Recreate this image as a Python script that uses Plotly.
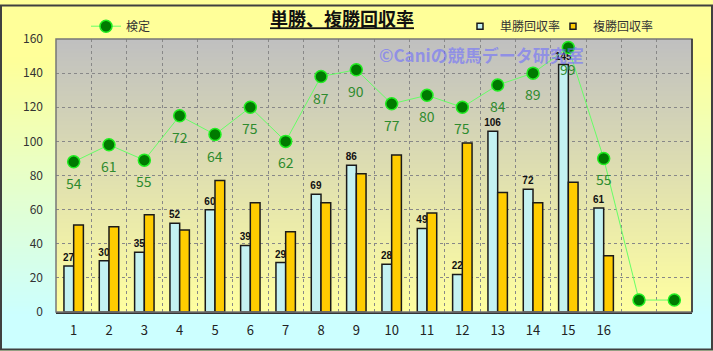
import base64, struct, zlib
import plotly.graph_objects as go

# ---------------- data ----------------
races = [str(i) for i in range(1, 17)]
tansho = [27, 30, 35, 52, 60, 39, 29, 69, 86, 28, 49, 22, 106, 72, 145, 61]
fukusho = [51, 50, 57, 48, 77, 64, 47, 64, 81, 92, 58, 99, 70, 64, 76, 33]
kentei_y = [88, 98, 89, 115, 104, 120, 100, 138, 142, 122, 127, 120, 133, 140, 155, 90, 7, 7]
kentei_labels = ["54", "61", "55", "72", "64", "75", "62", "87", "90", "77", "80", "75",
                 "84", "89", "99", "55", "", ""]
y_ticks = [0, 20, 40, 60, 80, 100, 120, 140, 160]

W, H = 713, 351
ML, MR, MT, MB = 56, 21, 35, 39
PW, PH = W - ML - MR, H - MT - MB

C_TAN = "#C4F2F2"
C_FUKU = "#FFCC00"


def png_uri(colors):
    """1-pixel-wide vertical gradient PNG as data URI."""
    raw = b"".join(b"\x00" + bytes(c) for c in colors)

    def chunk(tag, data):
        return (struct.pack(">I", len(data)) + tag + data +
                struct.pack(">I", zlib.crc32(tag + data) & 0xFFFFFFFF))

    png = (b"\x89PNG\r\n\x1a\n" +
           chunk(b"IHDR", struct.pack(">IIBBBBB", 1, len(colors), 8, 2, 0, 0, 0)) +
           chunk(b"IDAT", zlib.compress(raw)) + chunk(b"IEND", b""))
    return "data:image/png;base64," + base64.b64encode(png).decode()


def grad(c1, c2, n, start=0.0, end=1.0):
    out = []
    for i in range(n):
        f = i / (n - 1)
        t = min(1.0, max(0.0, (f - start) / (end - start)))
        out.append(tuple(int(round(a + (b - a) * t)) for a, b in zip(c1, c2)))
    return out


paper_img = png_uri(grad((255, 255, 153), (204, 255, 255), 128, 0.15, 0.9))
plot_img = png_uri(grad((192, 192, 192), (255, 255, 160), 128, 0.0, 1.0))

x_bar = list(range(1, 17))
x_line = list(range(1, 19))

fig = go.Figure()
fig.add_trace(go.Bar(
    x=x_bar, y=tansho, name="単勝回収率", showlegend=False,
    marker=dict(color=C_TAN, line=dict(color="#1a1a1a", width=1.5)),
    text=[str(v) for v in tansho], textposition="outside", constraintext="none",
    textfont=dict(family="Liberation Sans", size=10, color="#111"),
    texttemplate="<b>%{text}</b>", cliponaxis=False,
))
fig.add_trace(go.Bar(
    x=x_bar, y=fukusho, name="複勝回収率", showlegend=False,
    marker=dict(color=C_FUKU, line=dict(color="#1a1a1a", width=1.5)),
))
fig.add_trace(go.Scatter(
    x=x_line, y=kentei_y, name="検定", legend="legend", showlegend=True,
    mode="lines+markers",
    line=dict(color="#66FF66", width=1),
    marker=dict(size=12, color="#007A00", line=dict(color="#22EE22", width=1.5)),
    cliponaxis=False,
))
# legend entries for the bar series (small square symbols like the original)
for name, col, lg in [("単勝回収率", C_TAN, "legend2"), ("複勝回収率", C_FUKU, "legend3")]:
    fig.add_trace(go.Scatter(
        x=[None], y=[None], mode="markers", name=name, legend=lg, showlegend=True,
        marker=dict(symbol="square", size=6, color=col, line=dict(color="#1a1a1a", width=1.5)),
    ))

annotations = [
    dict(text="<b>©Caniの競馬データ研究室</b>", xref="paper", yref="paper",
         x=(377 - ML) / PW, xanchor="left", y=1 - (51 - MT) / PH, yanchor="middle",
         showarrow=False, font=dict(size=17, color="rgba(110,110,255,0.6)")),
]
for xv, yv, lab in zip(x_line, kentei_y, kentei_labels):
    if lab:
        annotations.append(dict(x=xv, y=yv, text=lab, showarrow=False, yshift=-21,
                                font=dict(size=14, color="#2E8B2E")))

leg_common = dict(xanchor="left", y=1 + (MT - 22) / PH, yanchor="middle",
                  orientation="h", bgcolor="rgba(0,0,0,0)",
                  font=dict(size=12, color="#333"), itemwidth=30)

fig.update_layout(
    width=W, height=H,
    margin=dict(l=ML, r=MR, t=MT, b=MB),
    showlegend=True,
    paper_bgcolor="#FFFF99", plot_bgcolor="rgba(0,0,0,0)",
    font=dict(family="Noto Sans CJK JP", size=12, color="#333"),
    barmode="group", bargap=0.45, bargroupgap=0,
    title=dict(text="<u><b>単勝、複勝回収率</b></u>", x=342 / W, xanchor="center",
               y=1 - 20 / H, yanchor="middle", xref="container", yref="container",
               font=dict(size=18, color="#111")),
    legend=dict(x=(86 - ML) / PW, **leg_common),
    legend2=dict(x=(460 - ML) / PW, **leg_common),
    legend3=dict(x=(553 - ML) / PW, **leg_common),
    xaxis=dict(range=[0.5, 18.5], tickvals=x_bar, ticktext=races, showgrid=False,
               zeroline=False, ticks="", tickfont=dict(size=13, color="#222"),
               ticklabelstandoff=6,
               showline=True, linecolor="#333", linewidth=1.5,
               minor=dict(tickvals=[i + 0.5 for i in range(1, 18)], showgrid=True,
                          gridcolor="#888", griddash="dot", gridwidth=1)),
    yaxis=dict(range=[0, 160], tickvals=y_ticks, showgrid=True, gridcolor="#888",
               griddash="dot", gridwidth=1, zeroline=False, ticks="",
               ticklabelstandoff=12,
               tickfont=dict(size=12, color="#333")),
    images=[
        dict(source=paper_img, xref="paper", yref="paper", x=-ML / PW, y=1 + MT / PH,
             sizex=W / PW, sizey=H / PH, sizing="stretch", layer="below",
             xanchor="left", yanchor="top"),
        dict(source=plot_img, xref="paper", yref="paper", x=0, y=1, sizex=1, sizey=1,
             sizing="stretch", layer="below", xanchor="left", yanchor="top"),
    ],
    shapes=[
        dict(type="rect", xref="paper", yref="paper", x0=0, x1=1, y0=0, y1=1,
             line=dict(color="#777", width=1.5), layer="above"),
        dict(type="line", xref="paper", yref="paper", x0=1, x1=1, y0=0, y1=1,
             line=dict(color="#333", width=1.5), layer="above"),
        dict(type="rect", xref="paper", yref="paper", x0=-(ML - 1) / PW, x1=1 + (MR - 1) / PW,
             y0=-(MB - 1) / PH, y1=1 + (MT - 1) / PH,
             line=dict(color="#404040", width=2)),
    ],
    annotations=annotations,
)

fig.write_html("out.html")
